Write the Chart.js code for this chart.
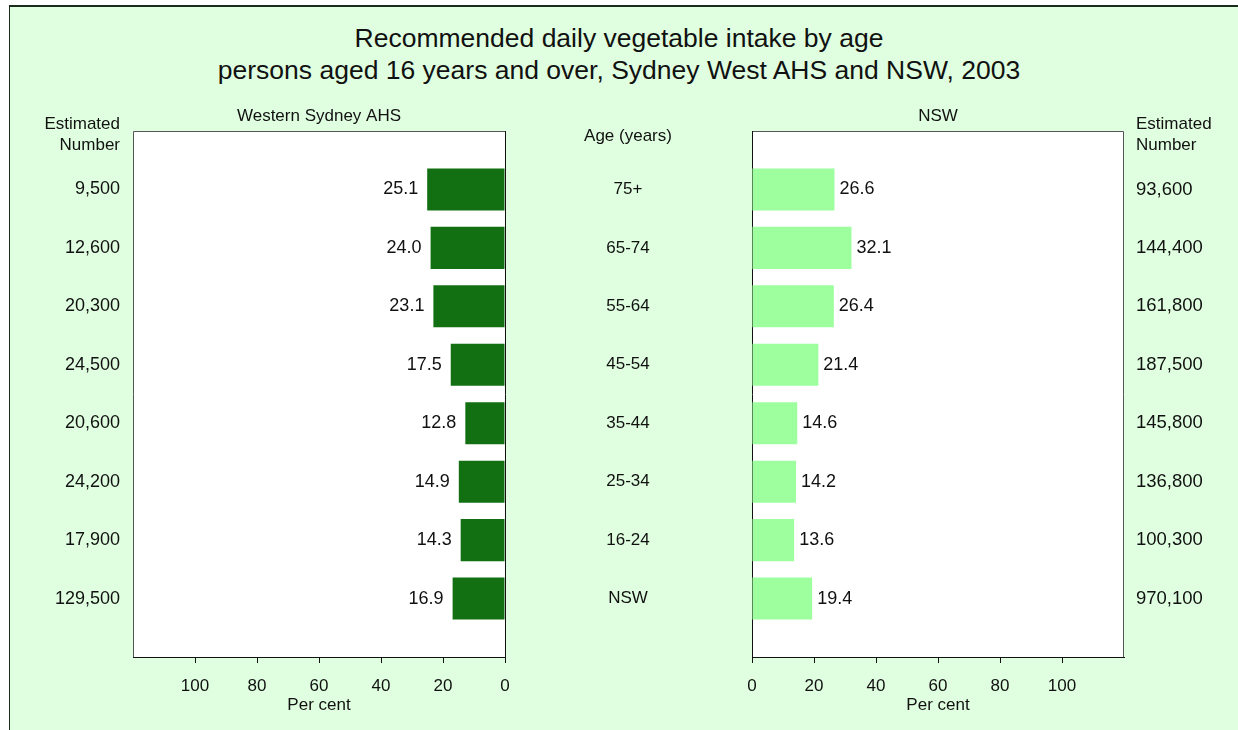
<!DOCTYPE html>
<html>
<head>
<meta charset="utf-8">
<script src="https://cdn.jsdelivr.net/npm/chart.js@4"></script>
<style>
  body { margin: 0; background: #fff; font-family: 'Liberation Sans', Arial, sans-serif; }
  #wrap { position: relative; width: 1238px; height: 730px; overflow: hidden; }
  #frame { position: absolute; left: 9px; top: 5px; width: 1300px; height: 800px;
           background: #e0ffe0; border-top: 2px solid #1c2c1c; border-left: 1px solid #1c2c1c; }
  #title { position: absolute; left: 0; top: 22px; width: 1238px; text-align: center;
           font-size: 26.5px; line-height: 32px; color: #111; }
  canvas { position: absolute; left: 0; top: 0; }
</style>
</head>
<body>
<div id="wrap">
  <div id="frame"></div>
  <div id="title">Recommended daily vegetable intake by age<br>persons aged 16 years and over, Sydney West AHS and NSW, 2003</div>
  <canvas id="left" width="1238" height="730"></canvas>
  <canvas id="right" width="1238" height="730"></canvas>
</div>
<script>
const ages = ['75+', '65-74', '55-64', '45-54', '35-44', '25-34', '16-24', 'NSW']
const westernValues = [25.1, 24.0, 23.1, 17.5, 12.8, 14.9, 14.3, 16.9]
const nswValues = [26.6, 32.1, 26.4, 21.4, 14.6, 14.2, 13.6, 19.4]
const westernNumbers = ['9,500', '12,600', '20,300', '24,500', '20,600', '24,200', '17,900', '129,500']
const nswNumbers = ['93,600', '144,400', '161,800', '187,500', '145,800', '136,800', '100,300', '970,100']
const xTicks = [0, 20, 40, 60, 80, 100]

// empty slot above and below so the bars sit like the original
const padLabels = [''].concat(ages, [''])
const pad = arr => [null].concat(arr, [null])

const FONT = "'Liberation Sans', Arial, sans-serif"
Chart.defaults.font.family = FONT
Chart.defaults.font.size = 17
Chart.defaults.color = '#111'

function makePlugin(side, values, numbers) {
    return {
        id: 'extras_' + side,
        beforeDraw(chart) {
            const a = chart.chartArea
            const ctx = chart.ctx
            ctx.save()
            ctx.fillStyle = '#fff'
            ctx.fillRect(a.left, a.top, a.right - a.left, a.bottom - a.top)
            ctx.strokeStyle = '#555'
            ctx.lineWidth = 1
            ctx.beginPath()
            if (side === 'left') {
                ctx.moveTo(a.left + 0.5, a.bottom)
                ctx.lineTo(a.left + 0.5, a.top + 0.5)
                ctx.lineTo(a.right, a.top + 0.5)
            } else {
                ctx.moveTo(a.left, a.top + 0.5)
                ctx.lineTo(a.right - 0.5, a.top + 0.5)
                ctx.lineTo(a.right - 0.5, a.bottom)
            }
            ctx.stroke()
            ctx.restore()
        },
        afterDatasetsDraw(chart) {
            const ctx = chart.ctx
            const x = chart.scales.x
            const y = chart.scales.y
            ctx.save()
            ctx.fillStyle = '#111'
            ctx.textBaseline = 'middle'
            values.forEach(function (v, i) {
                const py = y.getPixelForValue(i + 1)
                const px = x.getPixelForValue(v)
                ctx.font = '18px ' + FONT
                if (side === 'left') {
                    ctx.textAlign = 'right'
                    ctx.fillText(v.toFixed(1), px - 9, py)
                    ctx.fillText(numbers[i], 120, py)
                    ctx.font = '17px ' + FONT
                    ctx.textAlign = 'center'
                    ctx.fillText(ages[i], 628, py)
                } else {
                    ctx.textAlign = 'left'
                    ctx.fillText(v.toFixed(1), px + 5, py)
                    ctx.font = '18.5px ' + FONT
                    ctx.fillText(numbers[i], 1136, py)
                }
            })
            // headers
            ctx.font = '17px ' + FONT
            const mid = (chart.chartArea.left + chart.chartArea.right) / 2
            ctx.textAlign = 'center'
            if (side === 'left') {
                ctx.fillText('Western Sydney AHS', mid, 116)
                ctx.fillText('Age (years)', 628, 136)
                ctx.textAlign = 'right'
                ctx.fillText('Estimated', 120, 124)
                ctx.fillText('Number', 120, 145)
            } else {
                ctx.fillText('NSW', mid, 116)
                ctx.textAlign = 'left'
                ctx.fillText('Estimated', 1136, 124)
                ctx.fillText('Number', 1136, 145)
            }
            ctx.restore()
        }
    }
}

function makeChart(id, side, values, numbers, colour) {
    return new Chart(document.getElementById(id), {
        type: 'bar',
        data: {
            labels: padLabels,
            datasets: [{
                data: pad(values),
                backgroundColor: colour,
                barPercentage: 0.72,
                categoryPercentage: 1
            }]
        },
        options: {
            indexAxis: 'y',
            responsive: false,
            animation: false,
            events: [],
            layout: {
                padding: side === 'left'
                    ? { left: 133, right: 733, top: 131, bottom: 0 }
                    : { left: 752, right: 114, top: 131, bottom: 0 }
            },
            plugins: {
                legend: { display: false },
                tooltip: { enabled: false }
            },
            scales: {
                x: {
                    type: 'linear',
                    min: 0,
                    max: 120,
                    reverse: side === 'left',
                    afterBuildTicks: s => { s.ticks = xTicks.map(v => ({ value: v })) },
                    afterFit: s => { s.height = 73 },
                    grid: { drawOnChartArea: false, drawTicks: true, tickLength: 6, color: '#111' },
                    border: { display: true, color: '#111', width: 1 },
                    ticks: { padding: 13, color: '#111', font: { size: 17 } },
                    title: { display: true, text: 'Per cent', padding: { top: 0, bottom: 14 }, font: { size: 17 } }
                },
                y: {
                    type: 'category',
                    position: side === 'left' ? 'right' : 'left',
                    offset: false,
                    afterFit: s => { s.width = 0 },
                    grid: { display: false },
                    border: { display: true, color: '#111', width: 1 },
                    ticks: { display: false }
                }
            }
        },
        plugins: [makePlugin(side, values, numbers)]
    })
}

document.addEventListener('DOMContentLoaded', function () {
    makeChart('left', 'left', westernValues, westernNumbers, '#127012')
    makeChart('right', 'right', nswValues, nswNumbers, '#9eff9e')
})
</script>
</body>
</html>
